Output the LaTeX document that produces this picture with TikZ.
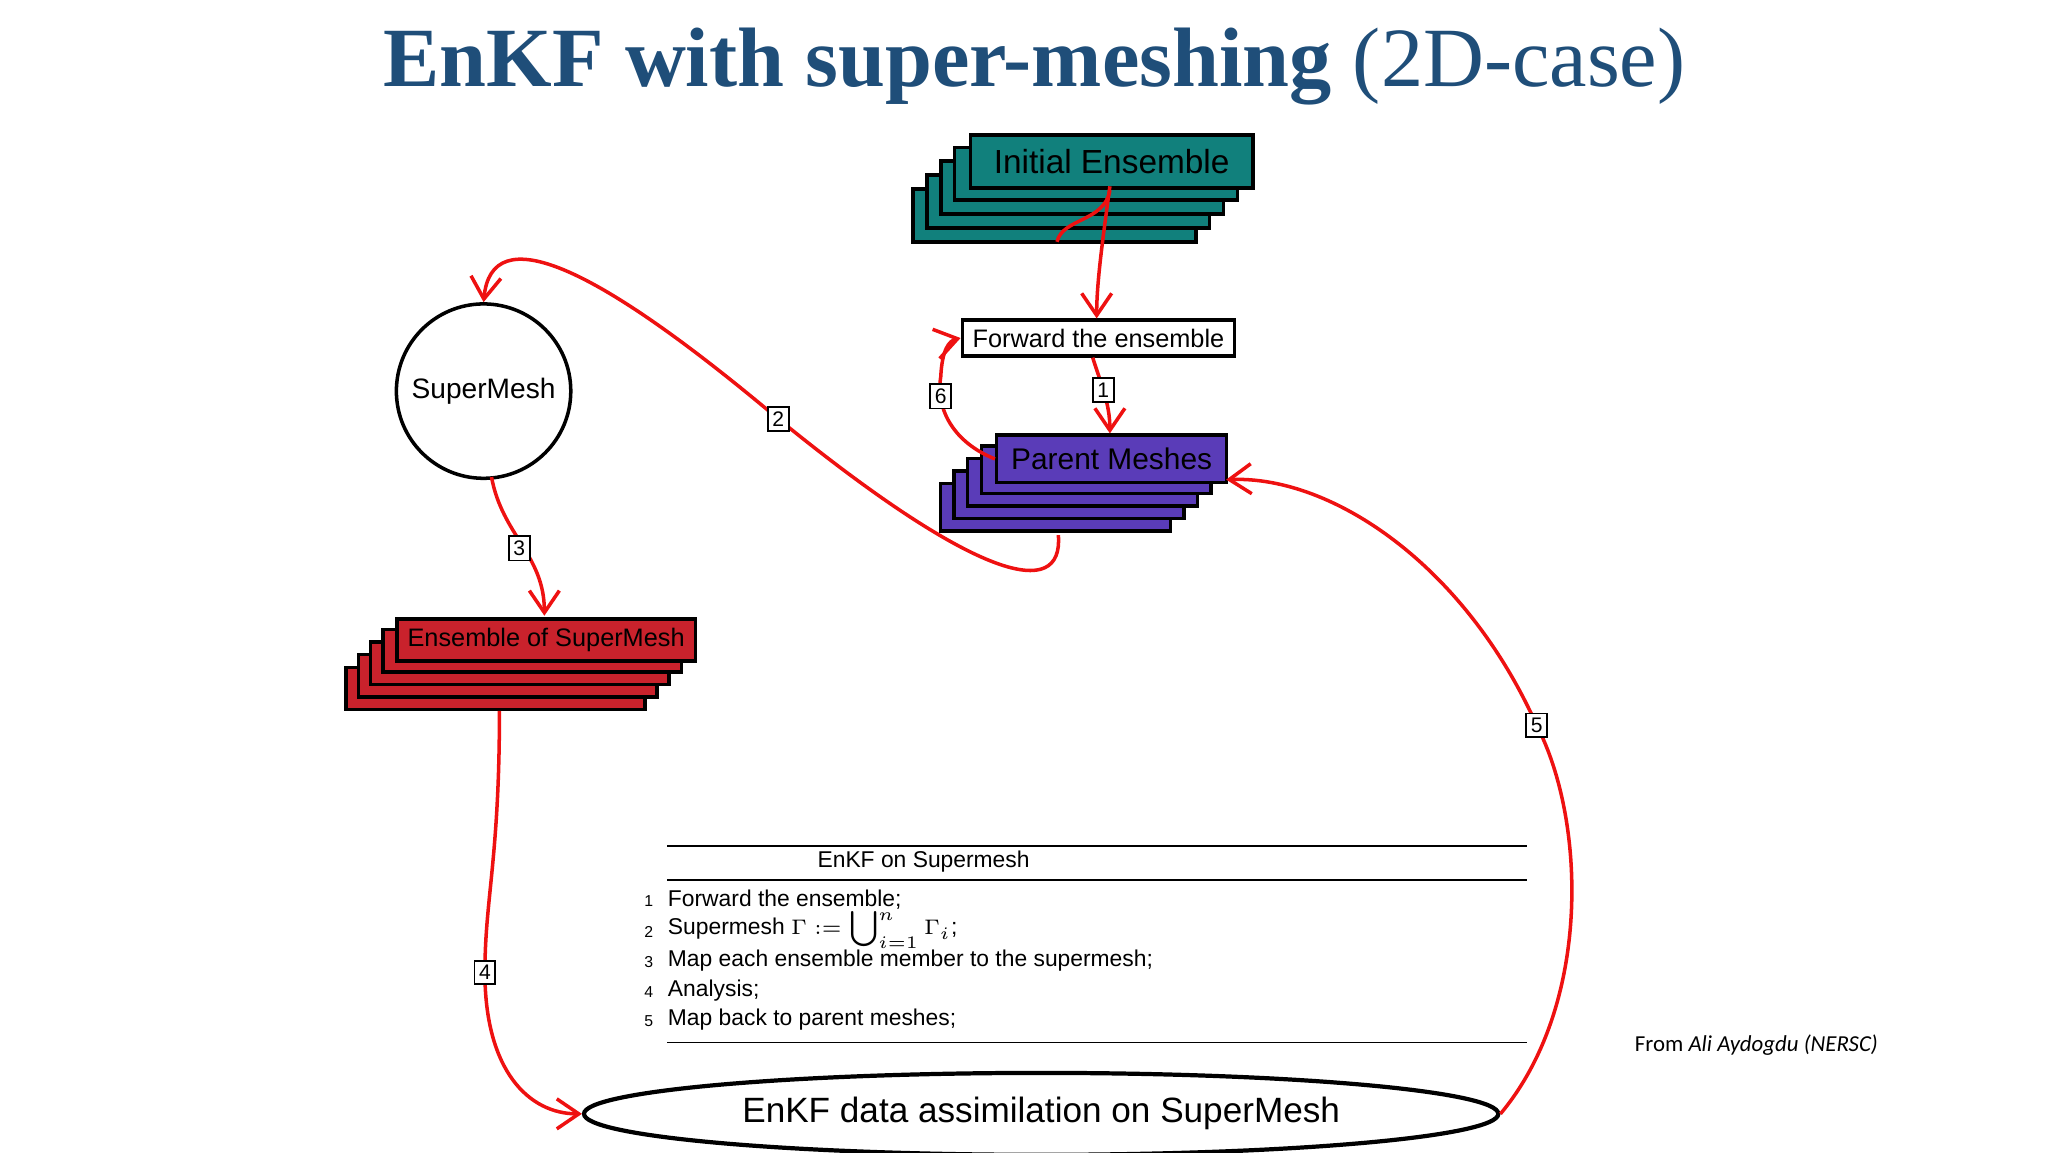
\documentclass[tikz,border=0pt]{standalone}
\usepackage{fontspec}
\setmainfont{Liberation Sans}
\newfontfamily\titlefont{Liberation Serif}
\newfontfamily\notefont{Carlito}
\usetikzlibrary{arrows.meta,shapes.geometric}
\definecolor{tblue}{HTML}{1F4E79}
\definecolor{teal1}{HTML}{11807C}
\definecolor{purp}{HTML}{5A3CB8}
\definecolor{redb}{HTML}{C9222C}
\definecolor{arr}{HTML}{EE1111}
\begin{document}
\begin{tikzpicture}[x=0.013216cm,y=-0.013216cm,
  stk/.style={draw=black,line width=1pt},
  conn/.style={draw=arr,line width=1pt,-{Straight Barb[length=2.2mm,width=3mm]}},
  lab/.style={draw=black,fill=white,line width=0.5pt,inner sep=1.3pt,font=\fontsize{6}{7}\selectfont},
  txt/.style={font=\fontsize{6.5}{8}\selectfont,anchor=west,inner sep=0}]
\useasboundingbox (0,0) rectangle (1550,872);
\node (title) at (783,50) {\titlefont\color{tblue}\fontsize{24}{28}\selectfont\textbf{EnKF with super-meshing} (2D-case)};
% Initial ensemble stack
\foreach \i in {4,3,2,1}{\draw[stk,fill=teal1] ({733-10.5*\i},{101+10.5*\i}) rectangle ++(214,40);}
\node[stk,fill=teal1,minimum width=214*0.013216cm,minimum height=40*0.013216cm,anchor=north west,inner sep=0,font=\fontsize{9.5}{11}\selectfont] (init) at (733,101) {Initial Ensemble};
% Parent meshes
\foreach \i in {4,3,2,1}{\draw[stk,fill=purp] ({753-10.3*\i},{328+9.5*\i}) rectangle ++(174,36);}
\node[stk,fill=purp,minimum width=174*0.013216cm,minimum height=36*0.013216cm,anchor=north west,inner sep=0,font=\fontsize{8.5}{10}\selectfont] (par) at (753,328) {Parent Meshes};
% Ensemble of SuperMesh
\foreach \i in {4,3,2,1}{\draw[stk,fill=redb] ({299-9.25*\i},{467+9.5*\i}) rectangle ++(226,32);}
\node[stk,fill=redb,minimum width=226*0.013216cm,minimum height=32*0.013216cm,anchor=north west,inner sep=0,font=\fontsize{7.2}{8}\selectfont] (ens) at (299,467) {Ensemble of SuperMesh};
% Forward
\node[stk,fill=white,minimum width=206*0.013216cm,minimum height=27*0.013216cm,anchor=north west,inner sep=0,font=\fontsize{7.2}{8}\selectfont] (fwd) at (727,241) {Forward the ensemble};
% SuperMesh circle
\node[circle,draw=black,line width=1pt,minimum size=132*0.013216cm,inner sep=0,font=\fontsize{8}{10}\selectfont] (sm) at (366,296) {SuperMesh};
% Ellipse
\node[ellipse,draw=black,line width=1.2pt,minimum width=692*0.013216cm,minimum height=62*0.013216cm,inner sep=0,font=\fontsize{10}{12}\selectfont] (da) at (788,843) {EnKF data assimilation on SuperMesh};
% table
\coordinate (t1l) at (505,640); \coordinate (t1r) at (1156,640);
\coordinate (t2l) at (505,666); \coordinate (t2r) at (1156,666);
\coordinate (t3l) at (505,789); \coordinate (t3r) at (1156,789);
\draw[line width=0.5pt] (t1l)--(t1r) (t2l)--(t2r) (t3l)--(t3r);
\node[font=\fontsize{6.5}{8}\selectfont] (th) at (699,652) {EnKF on Supermesh};
\foreach \n/\y/\t in {1/681/{Forward the ensemble;},2/704/{Supermesh $\Gamma := \bigcup\nolimits_{i=1}^{n} \Gamma_i$;},3/727/{Map each ensemble member to the supermesh;},4/750/{Analysis;},5/772/{Map back to parent meshes;}}{
  \node[font=\fontsize{4.5}{5}\selectfont] (n\n) at (491,\y+1) {\n};
  \node[txt] (r\n) at (505,\y) {\t};}
\node[anchor=west,font=\notefont\fontsize{6.5}{8}\selectfont] (from) at (1228,791) {From \textit{Ali Aydogdu (NERSC)}};
% connectors
\coordinate (c0) at (800,183);
\draw[draw=arr,line width=1pt] (c0) .. controls (804,165) and (836,168) .. (840,144);
\draw[conn] (840,141) .. controls (834,185) and (830,215) .. (fwd.north -| 830,0);
\draw[conn] (fwd.south -| 827,0) .. controls (833,290) and (840,305) .. (par.north -| 840,0) node[lab,pos=0.45] (l1) {1};
\draw[conn] (par.west) .. controls (722,335) and (708,310) .. (712,285) .. controls (713,265) and (718,258) .. (fwd.west);
\node[lab] (l6) at (712,300) {6};
\draw[conn] (801,405) .. controls (805,455) and (740,440) .. (589,317) .. controls (450,200) and (372,165) .. (sm.north);
\node[lab] (l2) at (589,317) {2};
\draw[conn] (372,361) .. controls (380,405) and (412,420) .. (412,466);
\node[lab] (l3) at (393,415) {3};
\draw[conn] (378,538) .. controls (378,650) and (367,680) .. (367,736) .. controls (367,810) and (400,843) .. (da.west);
\node[lab] (l4) at (367,736) {4};
\draw[conn] (da.east) .. controls (1205,760) and (1200,620) .. (1163,549) .. controls (1110,430) and (1010,360) .. (928,363);
\node[lab] (l5) at (1163,549) {5};
\end{tikzpicture}
\end{document}
